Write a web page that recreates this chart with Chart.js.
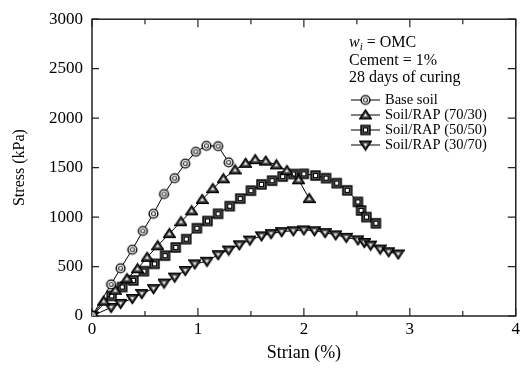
<!DOCTYPE html>
<html>
<head>
<meta charset="utf-8">
<script src="https://cdn.jsdelivr.net/npm/chart.js@4.4.0/dist/chart.umd.min.js"></script>
<style>
  html, body { margin: 0; padding: 0; background: #fff; }
  #chart { display: block; }
</style>
</head>
<body>
<canvas id="chart" width="523" height="376"></canvas>
<script>
// strain (%) and stress (kPa)
const strainBase = [0, 0.18, 0.27, 0.38, 0.48, 0.58, 0.68, 0.78, 0.88, 0.98, 1.08, 1.19, 1.29];
const stressBase = [0, 320, 483, 670, 860, 1033, 1233, 1393, 1540, 1660, 1720, 1717, 1553];

const strain7030 = [0, 0.11, 0.22, 0.33, 0.43, 0.52, 0.62, 0.73, 0.84, 0.94, 1.04, 1.14, 1.24, 1.35, 1.45, 1.54, 1.64, 1.74, 1.84, 1.95, 2.05];
const stress7030 = [0, 150, 260, 377, 477, 593, 710, 833, 953, 1063, 1177, 1287, 1387, 1477, 1543, 1580, 1565, 1527, 1470, 1377, 1187];

const strain5050 = [0, 0.185, 0.285, 0.39, 0.49, 0.59, 0.69, 0.79, 0.89, 0.99, 1.09, 1.19, 1.30, 1.40, 1.50, 1.60, 1.70, 1.80, 1.90, 2.00, 2.11, 2.21, 2.31, 2.41, 2.51, 2.54, 2.59, 2.68];
const stress5050 = [0, 203, 293, 360, 453, 527, 610, 693, 777, 887, 960, 1033, 1110, 1187, 1267, 1330, 1368, 1410, 1435, 1437, 1420, 1393, 1343, 1270, 1153, 1067, 1000, 937];

const strain3070 = [0, 0.18, 0.27, 0.38, 0.47, 0.58, 0.68, 0.78, 0.88, 0.97, 1.085, 1.19, 1.29, 1.39, 1.49, 1.60, 1.69, 1.79, 1.90, 2.00, 2.10, 2.20, 2.30, 2.40, 2.51, 2.57, 2.63, 2.72, 2.80, 2.89];
const stress3070 = [0, 87, 127, 177, 227, 277, 333, 393, 460, 527, 553, 620, 667, 720, 767, 810, 833, 853, 862, 870, 862, 843, 820, 795, 770, 743, 717, 677, 650, 627];

const seriesNames = ['Base soil', 'Soil/RAP (70/30)', 'Soil/RAP (50/50)', 'Soil/RAP (30/70)'];
const noteLines = ['Cement = 1%', '28 days of curing'];

const FONT = "'Liberation Serif', 'Times New Roman', serif";

function toPoints(xs, ys) {
  return xs.map((x, i) => ({ x: x, y: ys[i] }));
}

// marker images (black outline, grey band, small white inner shape)
function makeMarker(kind) {
  const c = document.createElement('canvas');
  c.width = 13; c.height = 13;
  const g = c.getContext('2d');
  g.strokeStyle = '#000';
  if (kind === 'circle') {
    g.lineWidth = 1.4;
    g.fillStyle = '#fff';
    g.beginPath(); g.arc(6.5, 6.5, 4.4, 0, Math.PI * 2); g.fill(); g.stroke();
    g.lineWidth = 1.2;
    g.strokeStyle = '#333';
    g.beginPath(); g.arc(6.5, 6.5, 2, 0, Math.PI * 2); g.stroke();
  } else if (kind === 'square') {
    g.lineWidth = 1.4;
    g.fillStyle = '#555';
    g.fillRect(2, 2, 9, 9); g.strokeRect(2, 2, 9, 9);
    g.fillStyle = '#fff';
    g.lineWidth = 1;
    g.fillRect(4.5, 4.5, 4, 4); g.strokeRect(4.5, 4.5, 4, 4);
  } else {
    const up = kind === 'up';
    const tri = (s) => {
      g.beginPath();
      if (up) {
        g.moveTo(6.5, 6.5 - s); g.lineTo(6.5 + s * 1.15, 6.5 + s * 0.75); g.lineTo(6.5 - s * 1.15, 6.5 + s * 0.75);
      } else {
        g.moveTo(6.5, 6.5 + s); g.lineTo(6.5 + s * 1.15, 6.5 - s * 0.75); g.lineTo(6.5 - s * 1.15, 6.5 - s * 0.75);
      }
      g.closePath();
    };
    g.lineWidth = 1.4;
    g.fillStyle = '#555';
    tri(5); g.fill(); g.stroke();
    g.fillStyle = '#fff';
    tri(1.6); g.fill();
  }
  return c;
}

const markers = [makeMarker('circle'), makeMarker('up'), makeMarker('square'), makeMarker('down')];

// frame with inward ticks on all four sides, drawn under the data
const framePlugin = {
  id: 'frame',
  beforeDatasetsDraw(chart) {
    const { ctx, chartArea: a, scales } = chart;
    ctx.save();
    ctx.strokeStyle = '#222';
    ctx.lineWidth = 1.5;
    ctx.strokeRect(a.left, a.top, a.right - a.left, a.bottom - a.top);
    ctx.lineWidth = 1.2;
    ctx.beginPath();
    scales.x.ticks.forEach(t => {
      const px = scales.x.getPixelForValue(t.value);
      const len = Number.isInteger(t.value) ? 8 : 5;
      ctx.moveTo(px, a.bottom); ctx.lineTo(px, a.bottom - len);
      ctx.moveTo(px, a.top); ctx.lineTo(px, a.top + len);
    });
    scales.y.ticks.forEach(t => {
      const py = scales.y.getPixelForValue(t.value);
      ctx.moveTo(a.left, py); ctx.lineTo(a.left + 7, py);
      ctx.moveTo(a.right, py); ctx.lineTo(a.right - 8, py);
    });
    ctx.stroke();
    ctx.restore();
  }
};

// notes and legend inside the plot
const notesPlugin = {
  id: 'notes',
  afterDraw(chart) {
    const ctx = chart.ctx;
    ctx.save();
    ctx.fillStyle = '#000';
    ctx.textBaseline = 'middle';
    ctx.textAlign = 'left';
    let x = 349;
    ctx.font = 'italic 16px ' + FONT;
    ctx.fillText('w', x, 43);
    x += ctx.measureText('w').width;
    ctx.font = 'italic 11px ' + FONT;
    ctx.fillText('i', x, 47);
    x += ctx.measureText('i').width;
    ctx.font = '16px ' + FONT;
    ctx.fillText(' = OMC', x, 43);
    noteLines.forEach((s, i) => ctx.fillText(s, 349, 61 + i * 17));

    ctx.font = '14.5px ' + FONT;
    chart.data.datasets.forEach((ds, i) => {
      const y = 100 + i * 15;
      ctx.strokeStyle = '#000';
      ctx.lineWidth = 1;
      ctx.beginPath(); ctx.moveTo(351, y); ctx.lineTo(380, y); ctx.stroke();
      const m = ds.pointStyle;
      ctx.drawImage(m, 365.5 - m.width / 2, y - m.height / 2);
      ctx.fillText(ds.label, 385, y);
    });
    ctx.restore();
  }
};

const allX = [strainBase, strain7030, strain5050, strain3070];
const allY = [stressBase, stress7030, stress5050, stress3070];

new Chart(document.getElementById('chart'), {
  type: 'scatter',
  data: {
    datasets: seriesNames.map((name, i) => ({
      label: name,
      data: toPoints(allX[i], allY[i]),
      showLine: true,
      borderColor: '#000',
      borderWidth: 1,
      pointStyle: markers[i],
      backgroundColor: '#000'
    }))
  },
  options: {
    responsive: false,
    animation: false,
    devicePixelRatio: 1,
    layout: { padding: { left: 0, top: 16, right: 6, bottom: 0 } },
    plugins: { legend: { display: false }, tooltip: { enabled: false } },
    scales: {
      x: {
        type: 'linear', min: 0, max: 4,
        afterFit: s => { s.height = 60; },
        grid: { display: false, drawTicks: false },
        border: { display: false },
        ticks: {
          stepSize: 0.5, padding: 3, color: '#000', maxRotation: 0,
          font: { family: FONT, size: 17 },
          callback: v => Number.isInteger(v) ? String(v) : ''
        },
        title: { display: true, text: 'Strian (%)', color: '#000', font: { family: FONT, size: 18 }, padding: { top: 0, bottom: 12 } }
      },
      y: {
        min: 0, max: 3000,
        afterFit: s => { s.width = 92; },
        grid: { display: false, drawTicks: false },
        border: { display: false },
        ticks: { stepSize: 500, padding: 9, color: '#000', font: { family: FONT, size: 17 }, callback: v => String(v) },
        title: { display: true, text: 'Stress (kPa)', color: '#000', font: { family: FONT, size: 16 }, padding: { top: 10, bottom: 0 } }
      }
    }
  },
  plugins: [framePlugin, notesPlugin]
});
</script>
</body>
</html>
